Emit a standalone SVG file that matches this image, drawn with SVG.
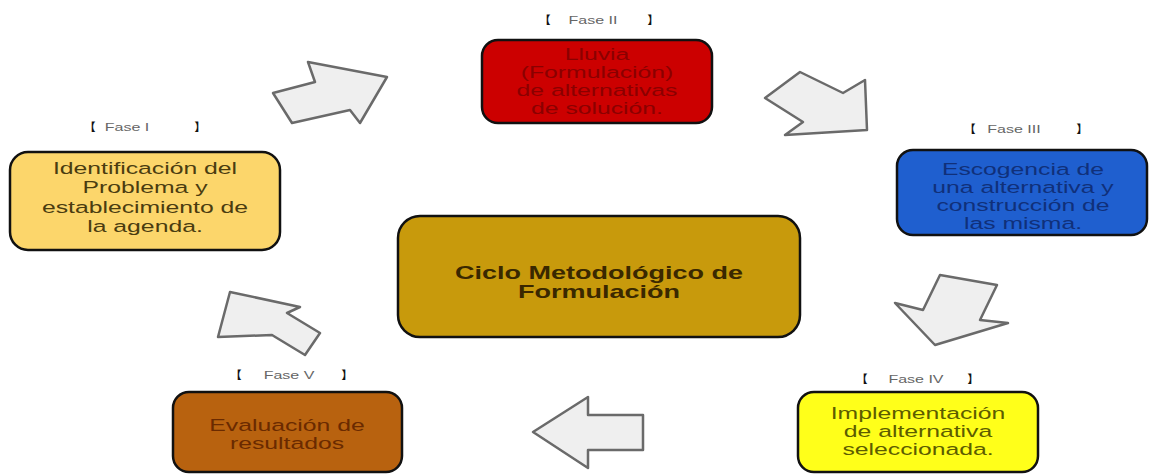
<svg xmlns="http://www.w3.org/2000/svg" width="1150" height="475" viewBox="0 0 1150 475">
<style>
.box{stroke:#111;stroke-width:2.5}
.nt{font-family:"Liberation Sans",Arial,sans-serif;font-size:16.5px;text-anchor:middle}
.ct{font-family:"Liberation Sans",Arial,sans-serif;font-size:18px;font-weight:bold;text-anchor:middle;fill:#3a2800}
.ph{font-family:"Liberation Sans",Arial,sans-serif;font-size:10px;text-anchor:middle;fill:#666}
.br{font-family:"Noto Sans CJK SC","Liberation Sans",sans-serif;font-size:11px;font-weight:900;text-anchor:middle;fill:#111}
.arr{fill:#efefef;stroke:#6a6a6a;stroke-width:2.5;stroke-linejoin:round}
</style>
<rect width="1150" height="475" fill="#fff"/>
<g id="connectors">
<polygon class="arr" points="273,93 315,82 308,62 387,77 360,123 350,110 292,123"/>
<polygon class="arr" points="765,98 800,72 843,93 865,80 867,130 785,135 803,122"/>
<polygon class="arr" points="940,275 997,285 980,320 1008,323 935,345 895,303 923,310"/>
<polygon class="arr" points="533,432 588,397 588,415 643,415 643,450 588,450 588,468"/>
<polygon class="arr" points="230,292 300,307 287,313 320,333 305,355 272,335 218,337"/>
</g>
<g id="center">
<rect class="box" x="398" y="216" width="402" height="121" rx="22" fill="#c89a0c"/>
<g transform="translate(599 0) scale(1.5 1)"><text class="ct"><tspan x="0" y="279">Ciclo Metodológico de</tspan><tspan x="0" y="298">Formulación</tspan></text></g>
</g>
<g id="fase1">
<g><text class="br" x="90" y="131">【</text><text class="ph" transform="translate(127 131) scale(1.6 1)">Fase I</text><text class="br" x="200" y="131">】</text></g>
<rect class="box" x="10" y="152" width="270" height="98" rx="18" fill="#fcd66b"/>
<g transform="translate(145 0) scale(1.5 1)"><text class="nt" fill="#4a3c10"><tspan x="0" y="174">Identificación del</tspan><tspan x="0" y="193.5">Problema y</tspan><tspan x="0" y="213">establecimiento de</tspan><tspan x="0" y="232.5">la agenda.</tspan></text></g>
</g>
<g id="fase2">
<g><text class="br" x="545" y="24">【</text><text class="ph" transform="translate(593 24) scale(1.6 1)">Fase II</text><text class="br" x="653" y="24">】</text></g>
<rect class="box" x="482" y="40" width="230" height="83" rx="16" fill="#cc0000"/>
<g transform="translate(597 0) scale(1.5 1)"><text class="nt" fill="#8a0000"><tspan x="0" y="60">Lluvia</tspan><tspan x="0" y="78">(Formulación)</tspan><tspan x="0" y="96">de alternativas</tspan><tspan x="0" y="114">de solución.</tspan></text></g>
</g>
<g id="fase3">
<g><text class="br" x="970" y="133">【</text><text class="ph" transform="translate(1014 133) scale(1.6 1)">Fase III</text><text class="br" x="1082" y="133">】</text></g>
<rect class="box" x="897" y="150" width="250" height="85" rx="16" fill="#1f5fcf"/>
<g transform="translate(1023 0) scale(1.5 1)"><text class="nt" fill="#10307a"><tspan x="0" y="175">Escogencia de</tspan><tspan x="0" y="193">una alternativa y</tspan><tspan x="0" y="211">construcción de</tspan><tspan x="0" y="229">las misma.</tspan></text></g>
</g>
<g id="fase4">
<g><text class="br" x="862" y="383">【</text><text class="ph" transform="translate(916 383) scale(1.6 1)">Fase IV</text><text class="br" x="973" y="383">】</text></g>
<rect class="box" x="798" y="392" width="240" height="80" rx="16" fill="#ffff1a"/>
<g transform="translate(918 0) scale(1.5 1)"><text class="nt" fill="#5c5c00"><tspan x="0" y="419">Implementación</tspan><tspan x="0" y="437">de alternativa</tspan><tspan x="0" y="455">seleccionada.</tspan></text></g>
</g>
<g id="fase5">
<g><text class="br" x="236" y="379">【</text><text class="ph" transform="translate(289 379) scale(1.6 1)">Fase V</text><text class="br" x="347" y="379">】</text></g>
<rect class="box" x="173" y="392" width="229" height="80" rx="16" fill="#b8620f"/>
<g transform="translate(287 0) scale(1.5 1)"><text class="nt" fill="#6a2a00"><tspan x="0" y="431">Evaluación de</tspan><tspan x="0" y="449">resultados</tspan></text></g>
</g>
</svg>
